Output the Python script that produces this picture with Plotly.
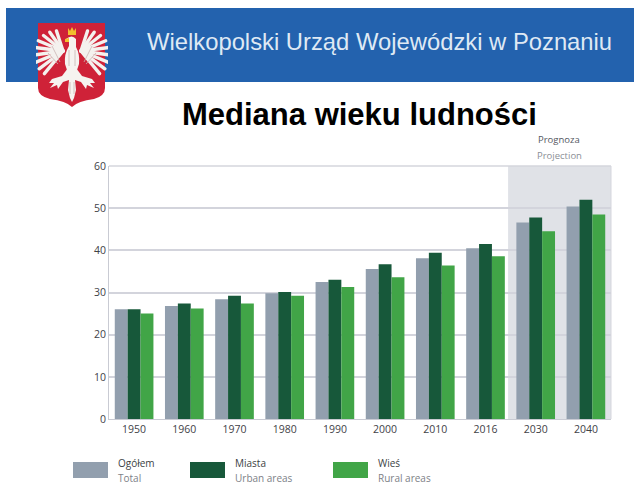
import base64
import math
import plotly.graph_objects as go

years = ["1950", "1960", "1970", "1980", "1990", "2000", "2010", "2016", "2030", "2040"]
total = [26.0, 26.8, 28.4, 29.8, 32.5, 35.6, 38.1, 40.5, 46.6, 50.4]
urban = [26.0, 27.4, 29.2, 30.1, 33.0, 36.7, 39.4, 41.5, 47.8, 52.0]
rural = [25.0, 26.2, 27.4, 29.2, 31.3, 33.6, 36.4, 38.6, 44.5, 48.5]

names = ["Ogółem", "Miasta", "Wieś"]
names_en = ["Total", "Urban areas", "Rural areas"]
colors = ["#929fae", "#17583a", "#41a547"]
series = [total, urban, rural]

W, H = 634, 485
L, R, T, B = 109, 611, 166, 419
FONT = "Open Sans"


def px(x):
    return (x - L) / (R - L)


def py(y):
    return (B - y) / (B - T)


# Emblem: shield with a white eagle, wing feathers fanned from the shoulders
feathers = ""
for i in range(9):
    ang = math.radians(-75 + i * 15)
    ln = 25 + 4 * math.sin(math.radians(i * 20))
    wid = 3.4
    for sign in (-1, 1):
        sx, sy = 36 + sign * 9, 31
        ex = sx + sign * ln * math.cos(ang)
        ey = sy + ln * math.sin(ang) + 4
        feathers += (f"<line x1='{sx:.1f}' y1='{sy:.1f}' x2='{ex:.1f}' y2='{ey:.1f}' "
                     f"stroke='#f4f1ee' stroke-width='{wid}' stroke-linecap='round'/>")
svg = f"""<svg xmlns='http://www.w3.org/2000/svg' width='72' height='90' viewBox='0 0 72 90'>
<defs><filter id='b'><feGaussianBlur stdDeviation='0.6'/></filter></defs>
<g filter='url(#b)'>
<path d='M2 3 H69 V68 Q69 76 58 79 Q42 81 36 87 Q30 81 14 79 Q2 76 2 68 Z' fill='#cf2338'/>
<path d='M32 8 L34 11 L36 7 L38 11 L40 8 L40 15 H32 Z' fill='#f2c02e'/>
{feathers}
<path d='M30 19 Q36 14 40 19 L40 27 Q44 34 43 44 L41 50 H31 L29 44 Q28 34 33 26 L33 22 L29 22 Z' fill='#f6f3ef'/>
<path d='M29 19 L33 18 L33 22 L29 22 Z' fill='#f2c02e'/>
<path d='M32 48 L26 56 L16 59 L13 63 L18 63 L14 68 L21 65 L22 69 L27 62 L33 60 L32 70 L34 78 L36 82 L38 78 L40 70 L39 60 L45 62 L50 69 L51 65 L58 68 L54 63 L59 63 L56 59 L46 56 L40 48 Z' fill='#f6f3ef'/>
<path d='M16 26 L24 42 M12 33 L22 44 M56 26 L48 42 M60 33 L50 44 M33 30 L33 46 M39 30 L39 46 M34 62 L34 74 M38 62 L38 74' stroke='#c9b4b2' stroke-width='0.8' fill='none'/>
</g></svg>"""
logo = "data:image/svg+xml;base64," + base64.b64encode(svg.encode()).decode()

fig = go.Figure()
for name, vals, col in zip(names, series, colors):
    fig.add_bar(x=years, y=vals, name=name, marker=dict(color=col, line=dict(width=0)),
                showlegend=False)


def note(text, x, y, family, size, color, xanchor="center"):
    return dict(text=text, x=px(x), y=py(y), xref="paper", yref="paper", showarrow=False,
                xanchor=xanchor, yanchor="middle", font=dict(family=family, size=size, color=color))


shapes = [
    dict(type="rect", xref="paper", yref="paper", x0=px(6), x1=px(634), y0=py(82), y1=py(8),
         fillcolor="#2362ae", line=dict(width=0), layer="below"),
    dict(type="rect", xref="x", yref="paper", x0=7.45, x1=9.5, y0=0, y1=1,
         fillcolor="#e0e2e7", line=dict(width=0), layer="below"),
    dict(type="line", xref="paper", yref="paper", x0=0, x1=1, y0=1, y1=1,
         line=dict(color="#d5d6dd", width=1.5), layer="below"),
    dict(type="line", xref="paper", yref="paper", x0=1, x1=1, y0=0, y1=1,
         line=dict(color="#d5d6dd", width=1), layer="below"),
]
annotations = [
    note("Wielkopolski Urząd Wojewódzki w Poznaniu", 379.5, 42, "Liberation Sans", 23.8, "#dfe9f4"),
    note("<b>Mediana wieku ludności</b>", 359, 114, "Liberation Sans", 31, "#000000"),
    note("Prognoza", 559, 140, FONT, 9.5, "#54585f"),
    note("Projection", 559, 155, FONT, 9.5, "#8b8f96"),
]
for x0, pl, en, col in zip([73, 190, 333], names, names_en, colors):
    shapes.append(dict(type="rect", xref="paper", yref="paper", x0=px(x0), x1=px(x0 + 35),
                       y0=py(478), y1=py(462), fillcolor=col, line=dict(width=0)))
    annotations.append(note(pl, x0 + 43, 463, FONT, 10, "#3c3f44", "left"))
    annotations.append(note(en, x0 + 43, 478, FONT, 10, "#7d8187", "left"))

fig.update_layout(
    width=W, height=H, autosize=False,
    margin=dict(l=L, r=W - R, t=T, b=H - B),
    paper_bgcolor="#ffffff", plot_bgcolor="rgba(0,0,0,0)",
    barmode="group", bargap=0.23, bargroupgap=0,
    font=dict(family=FONT, size=10.5, color="#3f4247"),
    shapes=shapes, annotations=annotations,
    images=[dict(source=logo, xref="paper", yref="paper", x=px(36), y=py(20),
                 sizex=72 / (R - L), sizey=90 / (B - T), xanchor="left", yanchor="top",
                 sizing="stretch", layer="above")],
    xaxis=dict(type="category", showgrid=False, showline=True, linecolor="#c9cbd3", linewidth=1,
               ticks="", tickfont=dict(size=10.5), range=[-0.5, 9.5]),
    yaxis=dict(range=[0, 60], tickvals=[0, 10, 20, 30, 40, 50, 60], showgrid=True,
               gridcolor="#d3d4dc", gridwidth=1.5, showline=True, linecolor="#c9cbd3", linewidth=1,
               ticks="", zeroline=False, tickfont=dict(size=10.5)),
)
fig.write_html("out.html", post_script="document.body.style.margin='0';",
               config=dict(displayModeBar=False))
